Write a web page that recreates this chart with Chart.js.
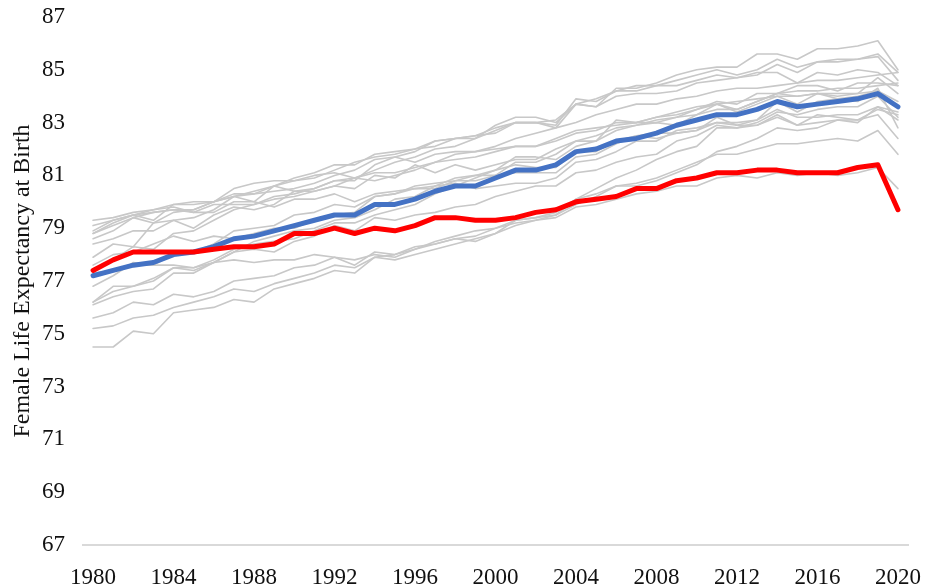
<!DOCTYPE html>
<html>
<head>
<meta charset="utf-8">
<script src="https://cdn.jsdelivr.net/npm/chart.js@4/dist/chart.umd.min.js"></script>
<style>
  html, body { margin: 0; padding: 0; background: #fff; }
  #wrap { width: 925px; height: 587px; position: relative; }
</style>
</head>
<body>
<div id="wrap"><canvas id="graphic"></canvas></div>
<script>
const years = [];
for (let y = 1980; y <= 2020; y++) years.push(String(y));

const yTicks = [67, 69, 71, 73, 75, 77, 79, 81, 83, 85, 87];

const usa = [77.4, 77.8, 78.1, 78.1, 78.1, 78.1, 78.2, 78.3, 78.3, 78.4,
  78.8, 78.8, 79.0, 78.8, 79.0, 78.9, 79.1, 79.4, 79.4, 79.3,
  79.3, 79.4, 79.6, 79.7, 80.0, 80.1, 80.2, 80.5, 80.5, 80.8,
  80.9, 81.1, 81.1, 81.2, 81.2, 81.1, 81.1, 81.1, 81.3, 81.4, 79.7];

const peerAverage = [77.2, 77.4, 77.6, 77.7, 78.0, 78.1, 78.3, 78.6, 78.7, 78.9,
  79.1, 79.3, 79.5, 79.5, 79.9, 79.9, 80.1, 80.4, 80.6, 80.6,
  80.9, 81.2, 81.2, 81.4, 81.9, 82.0, 82.3, 82.4, 82.6, 82.9,
  83.1, 83.3, 83.3, 83.5, 83.8, 83.6, 83.7, 83.8, 83.9, 84.1, 83.6];

const peerA = [78.6, 78.9, 79.4, 79.2, 79.6, 79.7, 80.0, 80.2, 80.3, 80.4,
  80.5, 80.7, 81.0, 81.2, 81.6, 81.7, 81.9, 82.3, 82.4, 82.4,
  82.9, 83.2, 83.2, 83.0, 83.7, 83.6, 84.3, 84.3, 84.5, 84.8,
  85.0, 85.1, 85.1, 85.6, 85.6, 85.4, 85.8, 85.8, 85.9, 86.1, 85.0];
const peerB = [78.4, 78.6, 78.9, 78.9, 79.3, 79.4, 79.7, 80.2, 80.4, 80.6,
  80.9, 81.1, 81.4, 81.4, 81.8, 81.9, 82.0, 82.3, 82.4, 82.5,
  82.8, 83.0, 83.0, 82.9, 83.9, 83.8, 84.2, 84.4, 84.4, 84.6,
  84.8, 85.0, 84.8, 85.0, 85.4, 85.1, 85.3, 85.3, 85.4, 85.6, 84.9];
const peerC = [78.8, 79.2, 79.5, 79.3, 79.9, 80.0, 80.0, 80.5, 80.7, 80.8,
  80.8, 80.9, 81.2, 81.5, 81.7, 81.8, 82.0, 82.1, 82.4, 82.5,
  82.6, 83.0, 83.0, 83.1, 83.7, 83.9, 84.2, 84.2, 84.4, 84.4,
  84.6, 84.8, 84.7, 84.8, 85.2, 84.9, 85.3, 85.4, 85.4, 85.5, 84.6];
const peerD = [77.4, 77.8, 78.3, 78.2, 78.8, 78.9, 79.3, 79.7, 79.9, 80.2,
  80.3, 80.5, 80.8, 80.9, 81.2, 81.5, 81.7, 82.0, 82.1, 82.4,
  82.7, 83.0, 83.0, 82.8, 83.7, 83.6, 84.0, 84.1, 84.1, 84.2,
  84.5, 84.6, 84.7, 84.9, 84.9, 84.5, 84.9, 84.8, 85.0, 84.9, 84.4];
const peerE = [79.3, 79.4, 79.6, 79.7, 79.8, 79.6, 79.9, 79.9, 79.9, 80.1,
  80.2, 80.4, 80.6, 80.5, 81.0, 80.9, 81.4, 81.1, 81.4, 81.2,
  81.4, 81.6, 81.6, 82.0, 82.3, 82.5, 82.8, 82.9, 83.1, 83.2,
  83.3, 83.5, 83.5, 83.8, 84.1, 84.2, 84.2, 84.3, 84.3, 84.4, 84.5];
const peerF = [78.8, 79.1, 79.4, 79.6, 79.7, 79.7, 80.0, 80.2, 80.0, 80.6,
  80.4, 80.5, 80.8, 80.8, 81.4, 81.7, 81.5, 81.8, 81.9, 81.9,
  82.0, 82.1, 82.1, 82.4, 82.7, 82.8, 82.9, 83.0, 83.2, 83.3,
  83.5, 83.7, 83.5, 83.8, 84.1, 84.0, 84.1, 84.1, 84.1, 84.7, 84.1];
const peerG = [79.1, 79.3, 79.5, 79.6, 79.7, 79.6, 79.6, 80.0, 80.0, 79.8,
  80.1, 80.1, 80.3, 80.0, 80.3, 80.4, 80.5, 80.6, 80.7, 80.5,
  80.6, 80.7, 80.7, 80.9, 81.5, 81.6, 81.9, 82.3, 82.3, 82.7,
  82.8, 83.0, 83.0, 83.1, 83.5, 83.2, 83.2, 83.3, 83.3, 83.6, 83.1];
const peerH = [78.9, 79.3, 79.5, 79.7, 79.9, 79.9, 80.0, 80.3, 80.3, 80.6,
  80.8, 81.0, 81.1, 80.9, 81.1, 81.1, 81.3, 81.5, 81.6, 81.7,
  81.9, 82.1, 82.1, 82.3, 82.6, 82.7, 83.0, 83.0, 83.2, 83.4,
  83.6, 83.7, 83.8, 83.9, 84.0, 84.0, 84.1, 84.0, 84.1, 84.2, 83.8];
const peerI = [77.9, 78.4, 78.3, 79.2, 79.3, 79.0, 79.5, 79.8, 79.7, 79.9,
  80.4, 80.4, 80.6, 80.9, 80.8, 81.0, 81.2, 81.5, 81.8, 81.9,
  82.1, 82.4, 82.6, 82.8, 83.0, 83.3, 83.5, 83.7, 83.7, 83.9,
  84.0, 84.2, 84.3, 84.3, 84.4, 84.5, 84.6, 84.6, 84.7, 84.8, 84.9];
const peerJ = [77.6, 78.0, 78.1, 78.4, 78.7, 78.5, 78.7, 78.6, 78.8, 79.0,
  79.0, 79.3, 79.5, 79.6, 80.2, 80.3, 80.5, 80.5, 80.8, 81.0,
  81.0, 81.5, 81.5, 81.8, 82.3, 82.3, 83.1, 83.0, 83.0, 83.2,
  83.5, 83.8, 83.7, 84.1, 84.1, 84.4, 84.4, 84.2, 84.5, 84.5, 84.4];
const peerK = [76.1, 76.4, 76.6, 76.7, 77.3, 77.3, 77.7, 78.1, 78.5, 78.7,
  78.9, 79.0, 79.3, 79.4, 79.7, 80.1, 80.2, 80.6, 80.9, 81.0,
  81.2, 81.7, 81.7, 81.6, 82.1, 82.3, 82.7, 82.9, 83.0, 82.9,
  83.3, 83.7, 83.4, 83.7, 84.0, 83.7, 84.1, 83.9, 84.0, 84.2, 83.6];
const peerL = [76.8, 77.2, 77.7, 77.6, 78.0, 78.1, 78.4, 78.9, 79.0, 79.1,
  79.5, 79.6, 79.9, 79.8, 80.2, 80.3, 80.6, 80.7, 80.8, 80.8,
  81.0, 81.1, 81.1, 81.1, 81.7, 81.8, 82.2, 82.5, 82.4, 82.6,
  82.7, 83.2, 82.9, 83.1, 83.8, 83.4, 83.8, 83.9, 83.8, 84.3, 82.8];
const peerM = [76.2, 76.6, 76.8, 77.0, 77.5, 77.5, 77.8, 78.2, 78.4, 78.5,
  78.6, 78.9, 79.2, 79.2, 79.5, 79.7, 79.9, 80.3, 80.6, 80.9,
  81.2, 81.4, 81.3, 81.3, 81.9, 81.9, 82.3, 82.5, 82.6, 82.6,
  82.7, 83.0, 82.9, 82.9, 83.3, 82.9, 83.3, 83.2, 83.1, 83.5, 83.3];
const peerN = [76.2, 76.8, 76.8, 77.1, 77.5, 77.4, 77.7, 78.1, 78.2, 78.1,
  78.5, 78.7, 79.1, 78.9, 79.4, 79.3, 79.5, 79.6, 79.8, 79.9,
  80.2, 80.4, 80.6, 80.6, 81.1, 81.2, 81.5, 81.7, 81.8, 82.3,
  82.5, 82.9, 82.8, 82.9, 83.2, 82.9, 83.0, 83.1, 83.1, 83.3, 82.4];
const peerO = [77.3, 77.4, 77.6, 77.6, 77.6, 77.5, 77.7, 77.8, 77.7, 77.8,
  77.8, 78.0, 77.9, 77.8, 78.0, 77.9, 78.2, 78.5, 78.7, 78.9,
  79.0, 79.2, 79.3, 79.5, 79.9, 80.2, 80.6, 80.6, 80.8, 81.1,
  81.4, 81.9, 82.1, 82.4, 82.8, 82.7, 82.8, 83.1, 83.0, 83.6, 83.4];
const peerP = [74.5, 74.5, 75.1, 75.0, 75.8, 75.9, 76.0, 76.3, 76.2, 76.7,
  76.9, 77.1, 77.4, 77.3, 77.9, 77.8, 78.0, 78.2, 78.4, 78.6,
  78.8, 79.3, 79.4, 79.5, 80.1, 80.5, 80.9, 81.2, 81.6, 81.9,
  82.1, 82.8, 82.8, 83.0, 83.4, 83.3, 83.5, 83.6, 83.6, 84.0, 83.2];
const peerQ = [75.6, 75.8, 76.2, 76.1, 76.5, 76.4, 76.6, 77.0, 77.1, 77.2,
  77.5, 77.6, 77.9, 77.6, 78.1, 78.0, 78.3, 78.4, 78.6, 78.5,
  78.8, 79.1, 79.3, 79.4, 79.8, 79.9, 80.1, 80.3, 80.4, 80.6,
  80.6, 80.9, 81.0, 80.9, 81.1, 81.0, 81.1, 81.0, 81.1, 81.3, 80.5];
const peerR = [75.2, 75.3, 75.6, 75.7, 76.0, 76.2, 76.4, 76.7, 76.6, 76.9,
  77.1, 77.3, 77.6, 77.5, 77.9, 78.0, 78.2, 78.4, 78.6, 78.7,
  79.0, 79.3, 79.4, 79.6, 80.1, 80.3, 80.6, 80.7, 80.9, 81.2,
  81.5, 81.8, 81.8, 82.0, 82.2, 82.2, 82.3, 82.4, 82.3, 82.7, 81.8];

const peerSeries = [peerA, peerB, peerC, peerD, peerE, peerF, peerG, peerH, peerI,
  peerJ, peerK, peerL, peerM, peerN, peerO, peerP, peerQ, peerR];

const serif = "'Liberation Serif', 'Times New Roman', 'DejaVu Serif', serif";

const datasets = [
  { label: "United States", data: usa, borderColor: "#ff0000", borderWidth: 5 },
  { label: "Peer average", data: peerAverage, borderColor: "#4472c4", borderWidth: 5 }
];
peerSeries.forEach((s, i) => {
  datasets.push({ label: "Peer " + (i + 1), data: s, borderColor: "rgb(200,200,200)", borderWidth: 1.6 });
});
datasets.forEach(d => {
  d.pointRadius = 0;
  d.tension = 0;
  d.fill = false;
  d.borderJoinStyle = "round";
  d.borderCapStyle = "round";
});

new Chart(document.getElementById("graphic").getContext("2d"), {
  type: "line",
  data: { labels: years, datasets: datasets },
  options: {
    responsive: true,
    maintainAspectRatio: false,
    animation: false,
    layout: { padding: { top: 17, right: 17, bottom: 0, left: 0 } },
    plugins: {
      legend: { display: false },
      tooltip: { enabled: false }
    },
    scales: {
      x: {
        offset: true,
        grid: { display: false, drawTicks: false },
        border: { display: true, color: "#d9d9d9", width: 2 },
        ticks: {
          autoSkip: false,
          maxRotation: 0,
          padding: 19,
          color: "#111",
          font: { family: serif, size: 23 },
          callback: function (v, i) { return i % 4 === 0 ? years[i] : ""; }
        },
        afterFit: function (scale) {
          scale.height = 42;
          scale.paddingLeft = 0;
          scale.paddingRight = 0;
        }
      },
      y: {
        min: yTicks[0],
        max: yTicks[yTicks.length - 1],
        grid: { display: false, drawTicks: false },
        border: { display: false },
        afterBuildTicks: function (scale) { scale.ticks = yTicks.map(v => ({ value: v })); },
        ticks: {
          padding: 18,
          color: "#111",
          font: { family: serif, size: 23 }
        },
        title: {
          display: true,
          text: "Female Life Expectancy at Birth",
          color: "#111",
          font: { family: serif, size: 24 },
          padding: { top: 8, bottom: 0 }
        },
        afterFit: function (scale) {
          scale.width = 83;
          scale.paddingTop = 0;
          scale.paddingBottom = 0;
        }
      }
    }
  }
});
</script>
</body>
</html>
